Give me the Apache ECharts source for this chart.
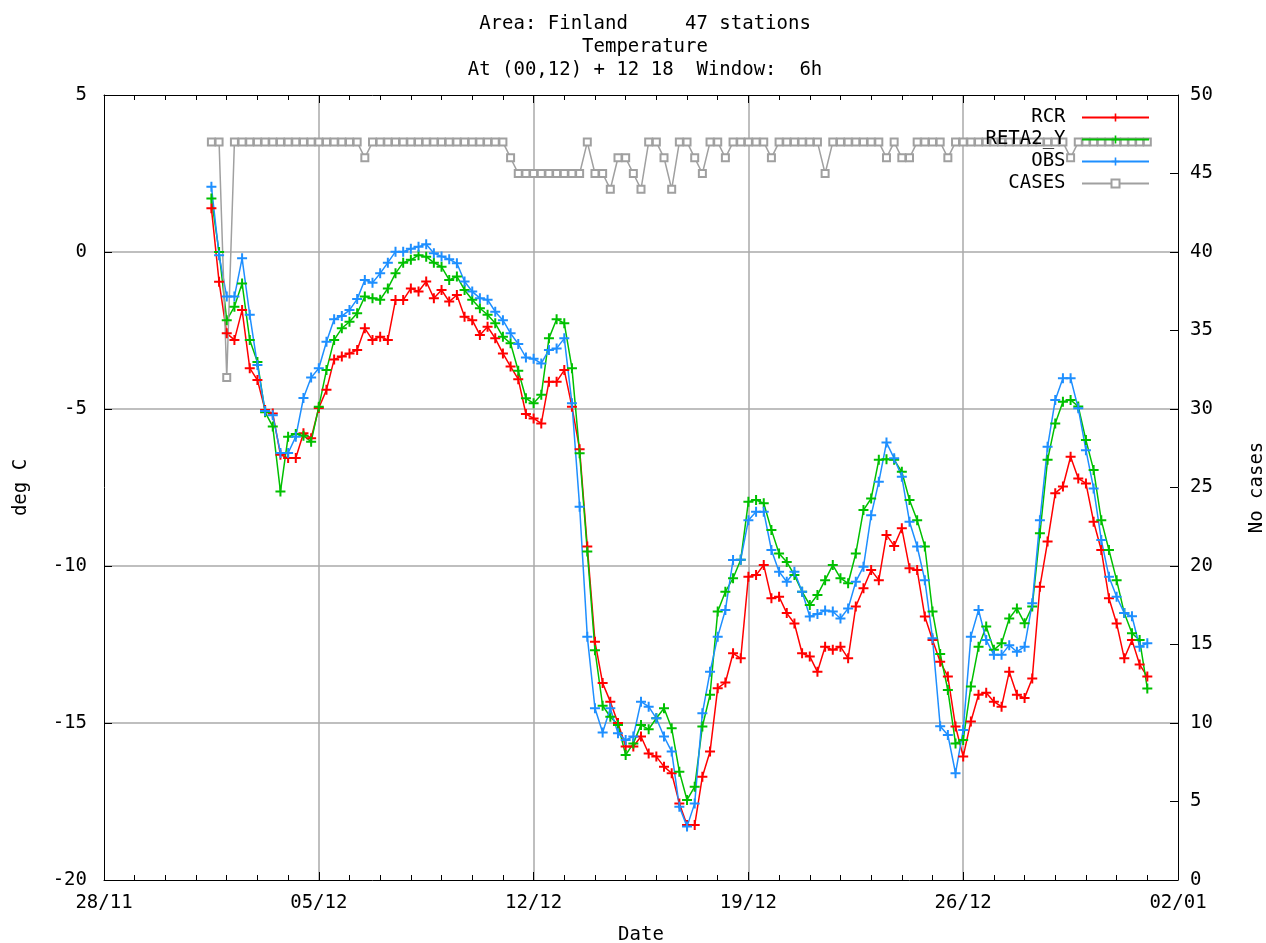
<!DOCTYPE html>
<html lang="en">
<head>
    <meta charset="UTF-8">
    <title>Area: Finland - Temperature</title>
    <script src="https://cdn.jsdelivr.net/npm/echarts@6/dist/echarts.min.js"></script>
    <style>
        html, body { margin: 0; padding: 0; background: #fff; }
        #chart { width: 1266px; height: 943px; }
    </style>
</head>
<body>
    <div id="chart"></div>
    <script>
        // x in days after 28/11, one value every 6h
        const tickLabels = ['28/11', '05/12', '12/12', '19/12', '26/12', '02/01'];
        const startDay = 3.5;
        const stepDays = 0.25;

        const rcr = [
            1.39, -0.95, -2.59, -2.8, -1.85, -3.7, -4.08, -5.03, -5.14, -6.46,
            -6.56, -6.56, -5.77, -5.93, -4.97, -4.39, -3.42, -3.33, -3.23, -3.12,
            -2.43, -2.8, -2.7, -2.8, -1.53, -1.53, -1.16, -1.26, -0.94, -1.47,
            -1.21, -1.58, -1.37, -2.06, -2.17, -2.64, -2.38, -2.75, -3.23, -3.65,
            -4.05, -5.16, -5.3, -5.46, -4.13, -4.13, -3.76, -4.93, -6.28, -9.38,
            -12.41, -13.73, -14.32, -15.0, -15.75, -15.75, -15.43, -15.97, -16.07, -16.39,
            -16.6, -17.56, -18.25, -18.25, -16.71, -15.91, -13.89, -13.71, -12.78, -12.94,
            -10.34, -10.29, -9.97, -11.03, -10.98, -11.5, -11.83, -12.78, -12.88, -13.37,
            -12.57, -12.67, -12.57, -12.94, -11.29, -10.71, -10.13, -10.45, -9.01, -9.36,
            -8.8, -10.07, -10.13, -11.61, -12.36, -13.05, -13.52, -15.11, -16.07, -14.95,
            -14.1, -14.04, -14.32, -14.48, -13.37, -14.1, -14.2, -13.58, -10.66, -9.22,
            -7.68, -7.47, -6.52, -7.21, -7.37, -8.59, -9.49, -11.03, -11.83, -12.94,
            -12.36, -13.14, -13.52
        ];
        const reta2 = [
            1.7, 0.0, -2.17, -1.74, -1.0, -2.8, -3.5, -5.1, -5.56, -7.63,
            -5.88, -5.8, -5.85, -6.04, -4.93, -3.76, -2.8, -2.43, -2.22, -1.95,
            -1.42, -1.47, -1.52, -1.16, -0.68, -0.34, -0.25, -0.1, -0.15, -0.34,
            -0.47, -0.89, -0.78, -1.21, -1.52, -1.79, -2.0, -2.27, -2.7, -2.91,
            -3.78, -4.66, -4.82, -4.55, -2.75, -2.14, -2.27, -3.7, -6.41, -9.54,
            -12.68, -14.45, -14.8, -15.06, -16.02, -15.65, -15.06, -15.2, -14.85, -14.53,
            -15.17, -16.55, -17.45, -17.03, -15.11, -14.1, -11.45, -10.82, -10.39, -9.8,
            -7.95, -7.9, -8.0, -8.85, -9.6, -9.87, -10.29, -10.82, -11.24, -10.92,
            -10.45, -9.97, -10.39, -10.55, -9.6, -8.22, -7.85, -6.62, -6.6, -6.62,
            -7.0, -7.9, -8.54, -9.38, -11.45, -12.8, -13.95, -15.65, -15.54, -13.84,
            -12.57, -11.93, -12.67, -12.46, -11.67, -11.35, -11.82, -11.29, -8.96, -6.62,
            -5.46, -4.77, -4.71, -4.92, -5.99, -6.94, -8.54, -9.49, -10.45, -11.5,
            -12.14, -12.36, -13.9
        ];
        const obs = [
            2.08, -0.1, -1.42, -1.42, -0.2, -2.0, -3.6, -5.06, -5.2, -6.4,
            -6.4, -5.88, -4.65, -4.0, -3.7, -2.86, -2.14, -2.04, -1.85, -1.5,
            -0.89, -0.98, -0.68, -0.34, 0.01, 0.01, 0.1, 0.17, 0.25, -0.04,
            -0.14, -0.23, -0.36, -0.94, -1.26, -1.47, -1.52, -1.9, -2.17, -2.59,
            -2.93, -3.36, -3.4, -3.55, -3.12, -3.07, -2.75, -4.82, -8.11, -12.25,
            -14.53, -15.3, -14.53, -15.33, -15.54, -15.43, -14.32, -14.48, -14.85, -15.43,
            -15.91, -17.67, -18.3, -17.56, -14.69, -13.37, -12.25, -11.4, -9.81, -9.8,
            -8.54, -8.27, -8.27, -9.49, -10.18, -10.5, -10.18, -10.82, -11.61, -11.53,
            -11.42, -11.45, -11.67, -11.35, -10.5, -10.02, -8.38, -7.32, -6.07, -6.57,
            -7.16, -8.59, -9.38, -10.45, -12.3, -15.1, -15.38, -16.6, -15.22, -12.25,
            -11.4, -12.36, -12.83, -12.83, -12.52, -12.73, -12.57, -11.19, -8.54, -6.2,
            -4.71, -4.02, -4.02, -4.98, -6.31, -7.53, -9.17, -10.34, -10.98, -11.5,
            -11.6, -12.57, -12.46
        ];
        const cases = [
            47, 47, 32, 47, 47, 47, 47, 47, 47, 47,
            47, 47, 47, 47, 47, 47, 47, 47, 47, 47,
            46, 47, 47, 47, 47, 47, 47, 47, 47, 47,
            47, 47, 47, 47, 47, 47, 47, 47, 47, 46,
            45, 45, 45, 45, 45, 45, 45, 45, 45, 47,
            45, 45, 44, 46, 46, 45, 44, 47, 47, 46,
            44, 47, 47, 46, 45, 47, 47, 46, 47, 47,
            47, 47, 47, 46, 47, 47, 47, 47, 47, 47,
            45, 47, 47, 47, 47, 47, 47, 47, 46, 47,
            46, 46, 47, 47, 47, 47, 46, 47, 47, 47,
            47, 47, 47, 47, 47, 47, 47, 47, 47, 47,
            47, 47, 46, 47, 47, 47, 47, 47, 47, 47,
            47, 47, 47
        ];

        const FONT = 'DejaVu Sans Mono';
        const FS = 19;
        const PLUS = 'path://M4,0H6V4H10V6H6V10H4V6H0V4H4Z';

        function toPoints(values) {
            return values.map((v, i) => [startDay + i * stepDays, v]);
        }

        function tempSeries(name, values, color) {
            return {
                name: name,
                type: 'line',
                data: toPoints(values),
                symbol: PLUS,
                symbolSize: 10,
                showAllSymbol: true,
                itemStyle: { color: color },
                lineStyle: { color: color, width: 1.5 },
                emphasis: { disabled: true }
            };
        }

        const chart = echarts.init(document.getElementById('chart'));
        const gridColor = '#aaaaaa';
        const tickStyle = { color: '#000', width: 1 };
        const axisLine = { show: true, onZero: false, lineStyle: tickStyle };

        chart.setOption({
            animation: false,
            backgroundColor: '#ffffff',
            textStyle: { fontFamily: FONT },
            title: {
                text: 'Area: Finland     47 stations\nTemperature\nAt (00,12) + 12 18  Window:  6h',
                left: 640,
                top: 8,
                textAlign: 'center',
                textStyle: {
                    fontFamily: FONT, fontSize: FS, fontWeight: 'normal',
                    color: '#000', lineHeight: 23
                }
            },
            legend: {
                orient: 'vertical',
                right: 116,
                top: 108,
                padding: 0,
                align: 'right',
                itemWidth: 67,
                itemHeight: 10,
                itemGap: 3,
                formatter: name => name.padStart(7, ' ') + ' ',
                textStyle: { fontFamily: FONT, fontSize: FS, color: '#000' },
                data: ['RCR', 'RETA2_Y', 'OBS', 'CASES']
            },
            grid: {
                left: 104, right: 88, top: 95, bottom: 63,
                containLabel: false, outerBoundsMode: 'none'
            },
            xAxis: [{
                type: 'value',
                min: 0,
                max: 35,
                interval: 7,
                position: 'bottom',
                name: 'Date',
                nameLocation: 'middle',
                nameGap: 46,
                nameTextStyle: { fontFamily: FONT, fontSize: FS, color: '#000' },
                axisLine: axisLine,
                axisTick: { show: true, inside: true, length: 8, lineStyle: tickStyle },
                minorTick: { show: true, splitNumber: 7, length: 5, lineStyle: tickStyle },
                axisLabel: {
                    margin: 14, fontFamily: FONT, fontSize: FS, color: '#000',
                    formatter: v => tickLabels[Math.round(v / 7)]
                },
                splitLine: {
                    show: true, showMinLine: false, showMaxLine: false,
                    lineStyle: { color: gridColor, width: 1.5 }
                }
            }, {
                type: 'value',
                min: 0,
                max: 35,
                interval: 7,
                position: 'top',
                axisLine: axisLine,
                axisTick: { show: true, inside: true, length: 8, lineStyle: tickStyle },
                minorTick: { show: true, splitNumber: 7, length: 5, lineStyle: tickStyle },
                axisLabel: { show: false },
                splitLine: { show: false }
            }],
            yAxis: [{
                type: 'value',
                min: -20,
                max: 5,
                interval: 5,
                position: 'left',
                name: 'deg C',
                nameLocation: 'middle',
                nameGap: 73,
                nameRotate: 90,
                nameTextStyle: { fontFamily: FONT, fontSize: FS, color: '#000' },
                axisLine: axisLine,
                axisTick: { show: true, inside: true, length: 8, lineStyle: tickStyle },
                axisLabel: { margin: 17, fontFamily: FONT, fontSize: FS, color: '#000' },
                splitLine: {
                    show: true, showMinLine: false, showMaxLine: false,
                    lineStyle: { color: gridColor, width: 1.5 }
                }
            }, {
                type: 'value',
                min: 0,
                max: 50,
                interval: 5,
                position: 'right',
                name: 'No cases',
                nameLocation: 'middle',
                nameGap: 70,
                nameRotate: 90,
                nameTextStyle: { fontFamily: FONT, fontSize: FS, color: '#000' },
                axisLine: axisLine,
                axisTick: { show: true, inside: true, length: 8, lineStyle: tickStyle },
                axisLabel: { margin: 12, fontFamily: FONT, fontSize: FS, color: '#000' },
                splitLine: { show: false }
            }],
            series: [
                tempSeries('RCR', rcr, '#ff0000'),
                tempSeries('RETA2_Y', reta2, '#00c000'),
                tempSeries('OBS', obs, '#1e8fff'),
                {
                    name: 'CASES',
                    type: 'line',
                    yAxisIndex: 1,
                    data: toPoints(cases),
                    symbol: 'emptyRect',
                    symbolSize: 7,
                    showAllSymbol: true,
                    itemStyle: { color: '#a0a0a0', borderColor: '#a0a0a0', borderWidth: 1.5 },
                    lineStyle: { color: '#a0a0a0', width: 1.5 },
                    emphasis: { disabled: true }
                }
            ]
        });
    </script>
</body>
</html>
